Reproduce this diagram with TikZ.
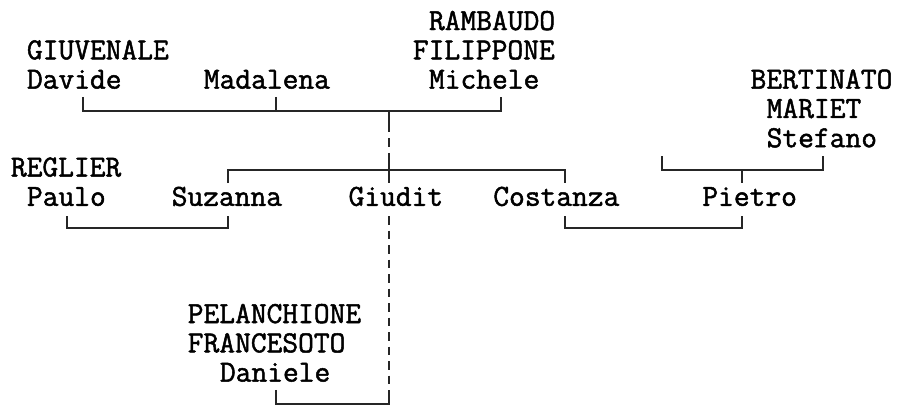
\documentclass[tikz,border=0pt]{standalone}
\usepackage{fontspec}
\newfontfamily\treefont{Latin Modern Mono}[FakeBold=1.6]
\begin{document}
\begin{tikzpicture}[x=1pt,y=-1pt,
  declare function={lx(\c)=10.72+16.08*\c; tx(\c)=18.76+16.08*\c; bl(\r)=30+29.3*\r; ly(\r)=23+29.3*\r;},
  person/.style={anchor=base west, inner sep=0pt, text=black,
    font=\treefont\fontsize{30.6}{30.6}\selectfont},
  link/.style={draw=black!85, line width=2pt, line cap=butt, line join=miter},
  dashlink/.style={link, dash pattern=on 8.5pt off 6pt}]
\useasboundingbox (0,0) rectangle (897,408);
% names
\node[person] (rambaudo)  at ({lx(26)},{bl(0)}) {RAMBAUDO};
\node[person] (filippone) at ({lx(25)},{bl(1)}) {FILIPPONE};
\node[person] (michele)   at ({lx(26)},{bl(2)}) {Michele};
\node[person] (giuvenale) at ({lx(1)},{bl(1)}) {GIUVENALE};
\node[person] (davide)    at ({lx(1)},{bl(2)}) {Davide};
\node[person] (madalena)  at ({lx(12)},{bl(2)}) {Madalena};
\node[person] (bertinato) at ({lx(46)},{bl(2)}) {BERTINATO};
\node[person] (mariet)    at ({lx(47)},{bl(3)}) {MARIET};
\node[person] (stefano)   at ({lx(47)},{bl(4)}) {Stefano};
\node[person] (reglier)   at ({lx(0)},{bl(5)}) {REGLIER};
\node[person] (paulo)     at ({lx(1)},{bl(6)}) {Paulo};
\node[person] (suzanna)   at ({lx(10)},{bl(6)}) {Suzanna};
\node[person] (giudit)    at ({lx(21)},{bl(6)}) {Giudit};
\node[person] (costanza)  at ({lx(30)},{bl(6)}) {Costanza};
\node[person] (pietro)    at ({lx(43)},{bl(6)}) {Pietro};
\node[person] (pelanchione) at ({lx(11)},{bl(10)}) {PELANCHIONE};
\node[person] (francesoto)  at ({lx(11)},{bl(11)}) {FRANCESOTO};
\node[person] (daniele)   at ({lx(13)},{bl(12)}) {Daniele};
% junction coordinates
\coordinate (dav) at ({tx(4)},{ly(3)});
\coordinate (mad) at ({tx(16)},{ly(3)});
\coordinate (mic) at ({tx(30)},{ly(3)});
\coordinate (top) at ({tx(23)},{ly(3)});
\coordinate (suz) at ({tx(13)},{ly(5)});
\coordinate (cos) at ({tx(34)},{ly(5)});
\coordinate (mid) at ({tx(23)},{ly(5)});
\coordinate (pl)  at ({tx(40)},{ly(5)});
\coordinate (ste) at ({tx(50)},{ly(5)});
\coordinate (pie) at ({tx(45)},{ly(5)});
\coordinate (pau2) at ({tx(3)},{ly(7)});
\coordinate (suz2) at ({tx(13)},{ly(7)});
\coordinate (cos2) at ({tx(34)},{ly(7)});
\coordinate (pie2) at ({tx(45)},{ly(7)});
\coordinate (dan) at ({tx(16)},{ly(13)});
\coordinate (bot) at ({tx(23)},{ly(13)});
% parents of Suzanna, Giudit, Costanza
\draw[link] ([yshift=14pt]dav) -- (dav) -- (mic) -- ([yshift=14pt]mic);
\draw[link] ([yshift=14pt]mad) -- (mad);
\draw[link] (top) -- ([yshift=-13pt]top);
\draw[dashlink] ([yshift=-13pt]top) -- ([yshift=13pt]mid);
% siblings line
\draw[link] ([yshift=-13.5pt]suz) -- (suz) -- (cos) -- ([yshift=-13.5pt]cos);
\draw[link] ([yshift=13pt]mid) -- ([yshift=-13.5pt]mid);
% Pietro's parents
\draw[link] ([yshift=13.5pt]pl) -- (pl) -- (ste) -- ([yshift=13.5pt]ste);
\draw[link] (pie) -- ([yshift=-13.5pt]pie);
% marriages
\draw[link] ([yshift=12pt]pau2) -- (pau2) -- (suz2) -- ([yshift=12pt]suz2);
\draw[link] ([yshift=12pt]cos2) -- (cos2) -- (pie2) -- ([yshift=12pt]pie2);
% Giudit -- Daniele
\draw[dashlink] ([yshift=12pt]pau2 -| bot) -- ([yshift=14pt]bot);
\draw[link] ([yshift=14pt]dan) -- (dan) -- (bot) -- ([yshift=14pt]bot);
\end{tikzpicture}
\end{document}
